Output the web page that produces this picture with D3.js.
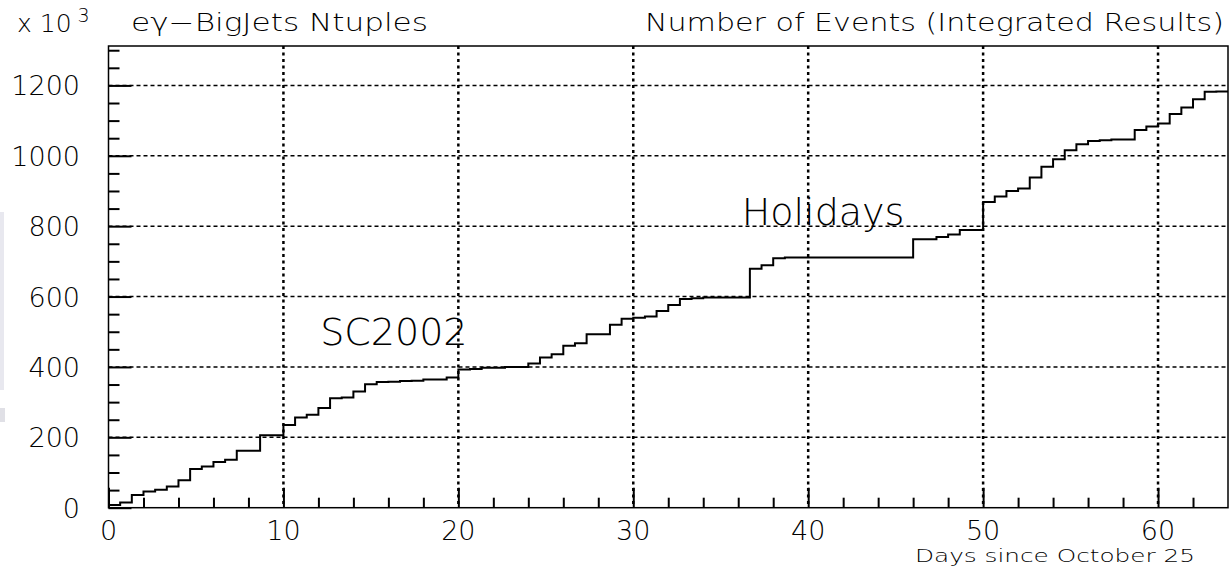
<!DOCTYPE html>
<html>
<head>
<meta charset="utf-8">
<script src="https://cdn.jsdelivr.net/npm/d3@7/dist/d3.min.js"></script>
<style>
  html, body { margin: 0; padding: 0; background: #fff; }
  svg { display: block; }
  text { font-family: "DejaVu Sans", sans-serif; fill: #000; }
</style>
</head>
<body>
<svg id="chart" width="1230" height="568"></svg>
<script>
// ---------------- data ----------------
const binWidthDays = 64 / 96;   // 96 bins over 64 days
const events = [   // integrated events (x 10^3), one value per bin
  8, 15, 36, 46, 51, 60, 78, 110, 117, 130, 136, 162, 162, 206, 206, 235,
  256, 264, 283, 311, 313, 330, 351, 357, 358, 360, 361, 364, 364, 370, 393, 394,
  398, 398, 400, 400, 410, 427, 436, 460, 467, 493, 493, 520, 537, 540, 543, 559,
  576, 593, 595, 597, 597, 597, 597, 679, 689, 709, 711, 711, 711, 711, 711, 711,
  711, 711, 711, 711, 711, 763, 763, 769, 776, 789, 789, 869, 884, 900, 907, 938,
  969, 990, 1016, 1033, 1042, 1044, 1046, 1046, 1073, 1083, 1092, 1119, 1137, 1161, 1182, 1183
];
const xMajorTicks = [0, 10, 20, 30, 40, 50, 60];
const xMinorTicks = [2, 4, 6, 8, 12, 14, 16, 18, 22, 24, 26, 28, 32, 34, 36, 38, 42, 44, 46, 48, 52, 54, 56, 58, 62];
const yMajorTicks = [0, 200, 400, 600, 800, 1000, 1200];
const yMinorTicks = [50, 100, 150, 250, 300, 350, 450, 500, 550, 650, 700, 750, 850, 900, 950, 1050, 1100, 1150, 1250, 1300];
const titleLeft = "eγ−BigJets Ntuples";
const titleRight = "Number of Events (Integrated Results)";
const xAxisTitle = "Days since October 25";
const annotations = [
  { text: "SC2002", day: 12.1, value: 462 },
  { text: "Holidays", day: 36.2, value: 804 }
];

// ---------------- layout ----------------
const svg = d3.select("#chart");
const L = 108.5, R = 1228, T = 46, B = 507.7;
const x = d3.scaleLinear().domain([0, 64]).range([L, R]);
const y = d3.scaleLinear().domain([0, 1312]).range([B, T]);

// faint scanning artefact on the left edge
svg.append("rect").attr("x", 0).attr("y", 212).attr("width", 4).attr("height", 178).attr("fill", "#e8e8ef");
svg.append("rect").attr("x", 0).attr("y", 408).attr("width", 5).attr("height", 14).attr("fill", "#e0e0e6");

// grid: horizontal dashed
svg.append("g").selectAll("line").data(yMajorTicks.filter(d => d > 0)).join("line")
  .attr("x1", L).attr("x2", R).attr("y1", d => y(d)).attr("y2", d => y(d))
  .attr("stroke", "#000").attr("stroke-width", 1.5).attr("stroke-dasharray", "4,3");
// grid: vertical dotted
svg.append("g").selectAll("line").data(xMajorTicks.filter(d => d > 0)).join("line")
  .attr("x1", d => x(d)).attr("x2", d => x(d)).attr("y1", T).attr("y2", B)
  .attr("stroke", "#000").attr("stroke-width", 2.5).attr("stroke-dasharray", "3,3.5");

// histogram outline
const pts = events.map((v, i) => [i * binWidthDays, v]);
pts.push([64, events[events.length - 1]]);
const line = d3.line().x(d => x(d[0])).y(d => y(d[1])).curve(d3.curveStepAfter);
svg.append("path").attr("d", line(pts)).attr("fill", "none")
  .attr("stroke", "#000").attr("stroke-width", 2);

// frame
svg.append("rect").attr("x", L).attr("y", T).attr("width", R - L).attr("height", B - T)
  .attr("fill", "none").attr("stroke", "#000").attr("stroke-width", 1.5);

// axes (ticks inside the frame, ROOT style)
const xAxisMajor = d3.axisTop(x).tickValues(xMajorTicks).tickSize(20).tickFormat("");
const xAxisMinor = d3.axisTop(x).tickValues(xMinorTicks).tickSize(10).tickFormat("");
const yAxisMajor = d3.axisRight(y).tickValues(yMajorTicks).tickSize(23).tickFormat("");
const yAxisMinor = d3.axisRight(y).tickValues(yMinorTicks).tickSize(11).tickFormat("");
[[xAxisMajor, `translate(0,${B})`], [xAxisMinor, `translate(0,${B})`],
 [yAxisMajor, `translate(${L},0)`], [yAxisMinor, `translate(${L},0)`]].forEach(([ax, tr]) => {
  const g = svg.append("g").attr("transform", tr).call(ax);
  g.select(".domain").remove();
  g.selectAll("line").attr("stroke", "#000").attr("stroke-width", 2);
});

// tick labels
svg.append("g").selectAll("text").data(xMajorTicks).join("text")
  .attr("x", d => x(d)).attr("y", 540).attr("text-anchor", "middle")
  .attr("font-size", 27).attr("font-weight", 300).text(d => d);
svg.append("g").selectAll("text").data(yMajorTicks).join("text")
  .attr("x", 80).attr("y", d => y(d) + 10).attr("text-anchor", "end")
  .attr("font-size", 27).attr("font-weight", 300).text(d => d);

// titles
const t1 = svg.append("text").attr("x", 17).attr("y", 32).attr("font-size", 25).attr("font-weight", 300);
t1.append("tspan").text("x 10");
t1.append("tspan").attr("dx", 6).attr("dy", -10).attr("font-size", 19).text("3");
svg.append("text").attr("x", 131).attr("y", 31).attr("font-size", 25).attr("font-weight", 300)
  .attr("textLength", 297).attr("lengthAdjust", "spacingAndGlyphs").text(titleLeft);
svg.append("text").attr("x", 645).attr("y", 31).attr("font-size", 25).attr("font-weight", 300)
  .attr("textLength", 579).attr("lengthAdjust", "spacingAndGlyphs").text(titleRight);
svg.append("text").attr("x", 915).attr("y", 562)
  .attr("font-size", 17).attr("font-weight", 300)
  .attr("textLength", 280).attr("lengthAdjust", "spacingAndGlyphs").text(xAxisTitle);

// annotations
svg.append("g").selectAll("text").data(annotations).join("text")
  .attr("x", d => x(d.day)).attr("y", d => y(d.value))
  .attr("font-size", 38).attr("font-weight", 200).text(d => d.text);
</script>
</body>
</html>
